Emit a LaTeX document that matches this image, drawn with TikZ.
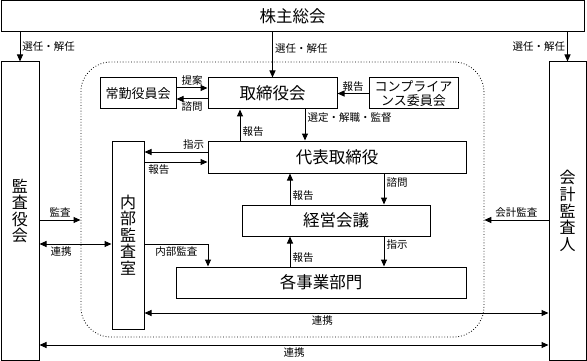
\documentclass[tikz,border=0pt]{standalone}
\usepackage{fontspec}
\setmainfont{Noto Sans CJK JP}
\usetikzlibrary{positioning,calc,arrows.meta}

\begin{document}
\begin{tikzpicture}[x=1pt, y=-1pt,
        every node/.style={font=\fontsize{10.5}{12}\selectfont},
        box/.style={rectangle, draw=black, line width=1pt, inner sep=0pt, align=center, font=\fontsize{16.5}{18}\selectfont},
        vbox/.style={box, font=\fontsize{16}{16.6}\selectfont},
        smallbox/.style={box, font=\fontsize{13}{14.5}\selectfont},
        arrow/.style={-{Triangle[length=7pt,width=6pt]}, line width=1pt},
        both/.style={{Triangle[length=7pt,width=6pt]}-{Triangle[length=7pt,width=6pt]}, line width=1pt},
        note/.style={font=\fontsize{10.5}{12}\selectfont, inner sep=2pt},
    ]
        \useasboundingbox (0,0) rectangle (587,361);

        \node[box, minimum width=583, minimum height=31] (soukai) at (292.5,16.5) {株主総会};
        \node[vbox, minimum width=38, minimum height=298] (kansayaku) at (20,211) {監\\査\\役\\会};
        \node[vbox, minimum width=37, minimum height=298] (kaikei) at (567.5,211) {会\\計\\監\\査\\人};
        \node[draw, dotted, line width=0.8pt, rounded corners=30pt, minimum width=403, minimum height=275] (grp) at (282.4,199.5) {};
        \node[smallbox, minimum width=76, minimum height=31] (jokin) at (138,93.5) {常勤役員会};
        \node[box, minimum width=129, minimum height=31] (torishimari) at (272.5,93.5) {取締役会};
        \node[smallbox, minimum width=89, minimum height=31] (compliance) at (413.5,93.5) {コンプライア\\ンス委員会};
        \node[box, minimum width=258, minimum height=32] (daihyo) at (337,157) {代表取締役};
        \node[vbox, minimum width=32, minimum height=188] (naibu) at (128,235) {内\\部\\監\\査\\室};
        \node[box, minimum width=188, minimum height=31] (keiei) at (336,220.5) {経営会議};
        \node[box, minimum width=290, minimum height=31] (jigyo) at (321,282.5) {各事業部門};

        \draw[arrow] (kansayaku.north |- soukai.south) -- node[note, right]{選任・解任} (kansayaku.north);
        \draw[arrow] (torishimari.north |- soukai.south) -- node[note, right, pos=0.35]{選任・解任} (torishimari.north);
        \draw[arrow] (kaikei.north |- soukai.south) -- node[note, left]{選任・解任} (kaikei.north);

        \draw[arrow] ([yshift=5.5pt]jokin.east) -- node[note, above]{提案} ([yshift=5.5pt]jokin.east -| torishimari.west);
        \draw[arrow] ([yshift=-5.5pt]torishimari.west) -- node[note, below]{諮問} ([yshift=-5.5pt]torishimari.west -| jokin.east);
        \draw[arrow] (compliance) -- node[note, above]{報告} (torishimari);

        \draw[arrow] ([xshift=32.5pt]torishimari.south) -- node[note, right, pos=0.25]{選定・解職・監督} ([xshift=32.5pt]torishimari.south |- daihyo.north);
        \draw[arrow] ([xshift=-32.5pt]torishimari.south |- daihyo.north) -- node[note, right, pos=0.28]{報告} ([xshift=-32.5pt]torishimari.south);

        \draw[arrow] ([yshift=5pt]daihyo.west) -- node[note, above, pos=0.22]{指示} ([yshift=5pt]daihyo.west -| naibu.east);
        \draw[arrow] ([yshift=-5pt]daihyo.west -| naibu.east) -- node[note, below, pos=0.23]{報告} ([yshift=-5pt]daihyo.west);

        \draw[arrow] ([xshift=47pt]daihyo.south) -- node[note, right, pos=0.28]{諮問} ([xshift=47pt]daihyo.south |- keiei.north);
        \draw[arrow] ([xshift=-46pt]keiei.north) -- node[note, right, pos=0.28]{報告} ([xshift=-46pt]keiei.north |- daihyo.south);
        \draw[arrow] ([xshift=48pt]keiei.south) -- node[note, right, pos=0.26]{指示} ([xshift=48pt]keiei.south |- jigyo.north);
        \draw[arrow] ([xshift=-46pt]keiei.south |- jigyo.north) -- node[note, right, pos=0.3]{報告} ([xshift=-46pt]keiei.south);

        \draw[arrow] ([yshift=-9pt]naibu.east) -| node[note, below, pos=0.25]{内部監査} ([xshift=-113pt]jigyo.north);

        \draw[arrow] ([yshift=-9pt]kansayaku.east) -- node[note, above]{監査} ([yshift=-9pt]kansayaku.east -| grp.west);
        \draw[both] ([yshift=-33pt]kansayaku.east) -- node[note, below, pos=0.3]{連携} ([yshift=-33pt]kansayaku.east -| naibu.west);
        \draw[arrow] ([yshift=-9pt]kaikei.west) -- node[note, above]{会計監査} ([yshift=-9pt]kaikei.west -| grp.east);
        \draw[both] ([yshift=-78pt]naibu.east) -- node[note, below, pos=0.44]{連携} ([yshift=-78pt]naibu.east -| kaikei.west);
        \draw[both] ([yshift=-134pt]kansayaku.east) -- node[note, below]{連携} ([yshift=-134pt]kansayaku.east -| kaikei.west);

    \end{tikzpicture}
\end{document}
